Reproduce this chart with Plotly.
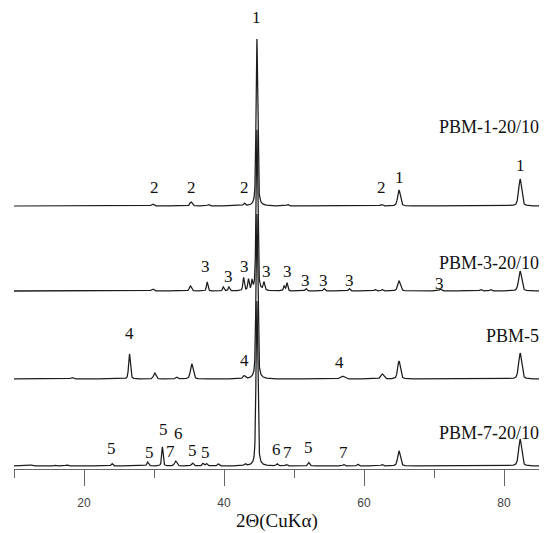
import numpy as np
import plotly.graph_objects as go

# ---------------- data ----------------
series_names = ["PBM-1-20/10", "PBM-3-20/10", "PBM-5", "PBM-7-20/10"]

# peak positions (2theta, deg), intensities (arb.), widths (FWHM, deg)
pbm1_pos = [29.8, 35.3, 37.8, 42.9, 44.7, 49.1, 62.5, 65.0, 82.3]
pbm1_int = [2, 4, 1.5, 2.5, 167, 1.5, 1.5, 16, 27]
pbm1_fw  = [0.4, 0.4, 0.3, 0.3, 0.28, 0.3, 0.4, 0.45, 0.5]

pbm3_pos = [29.8, 35.2, 37.6, 39.9, 40.7, 42.8, 43.5, 44.0, 44.7, 45.7, 48.6, 49.0,
            51.7, 54.3, 57.9, 61.6, 62.6, 65.0, 70.9, 76.7, 78.1, 82.3]
pbm3_int = [2, 5, 9, 4, 4, 13, 11, 9, 161, 8, 5, 8,
            2.5, 2.5, 2.5, 1.5, 1.5, 10, 2, 1.5, 1.5, 20]
pbm3_fw  = [0.4, 0.35, 0.25, 0.25, 0.25, 0.25, 0.25, 0.2, 0.28, 0.25, 0.25, 0.25,
            0.3, 0.3, 0.3, 0.3, 0.3, 0.45, 0.4, 0.3, 0.3, 0.5]

pbm5_pos = [18.3, 26.5, 30.1, 33.2, 35.4, 42.9, 44.7, 56.9, 62.6, 65.0, 82.3]
pbm5_int = [1.5, 25, 6, 2, 15, 3, 165, 3, 5, 18, 26]
pbm5_fw  = [0.4, 0.3, 0.4, 0.35, 0.45, 0.4, 0.3, 0.7, 0.5, 0.45, 0.5]

pbm7_pos = [12.5, 15.8, 17.5, 24.0, 29.1, 31.2, 33.1, 35.5, 37.0, 37.5, 39.2, 43.0,
            44.7, 47.6, 48.9, 52.1, 57.1, 59.1, 62.6, 65.0, 82.3]
pbm7_int = [1, 1, 1, 2.5, 4, 19, 5, 3, 2.5, 2.5, 2, 2,
            165, 2, 1.5, 3.5, 1.5, 2, 1.5, 15, 27]
pbm7_fw  = [0.4, 0.4, 0.4, 0.3, 0.3, 0.25, 0.4, 0.35, 0.3, 0.3, 0.3, 0.3,
            0.3, 0.3, 0.3, 0.3, 0.3, 0.3, 0.3, 0.45, 0.5]

# peak phase labels: text, 2theta
lab1_text = ["1", "1", "1", "2", "2", "2", "2"]
lab1_x    = [44.6, 65.0, 82.3, 30.0, 35.4, 42.9, 62.5]
lab3_text = ["3"] * 9
lab3_x    = [37.4, 40.6, 42.9, 46.1, 49.0, 51.6, 54.2, 57.9, 70.8]
lab5_text = ["4", "4", "4"]
lab5_x    = [26.5, 42.9, 56.5]
lab7_text = ["5", "5", "5", "7", "6", "5", "5", "6", "7", "5", "7"]
lab7_x    = [23.9, 29.4, 31.3, 32.3, 33.5, 35.5, 37.3, 47.5, 49.0, 52.1, 57.0]

x_tick_vals = [20, 40, 60, 80]
x_tick_text = ["20", "40", "60", "80"]

# ---------------- layout / style ----------------
W, H = 550, 533
AXIS_PX = 469          # pixel row of x axis line
TOP_PX = 10
offsets = [263, 178, 90, 3]   # vertical stacking of the curves

lab1_y = [17, 177, 165, 187, 187, 187, 187]
lab3_y = [266, 276, 266, 271, 271, 280, 280, 280, 283]
lab5_y = [333, 360, 362]
lab7_y = [448, 452, 429, 451, 433, 450, 452, 449, 452, 447, 452]
name_y = [127, 263, 336, 433]


def profile(x, pos, inten, fw, eta=0.45):
    y = np.zeros_like(x)
    for p, h, w in zip(pos, inten, fw):
        g = np.exp(-4 * np.log(2) * ((x - p) / w) ** 2)
        l = 1.0 / (1 + 4 * ((x - p) / w) ** 2)
        y += h * (eta * l + (1 - eta) * g)
    return y


x = np.linspace(10, 85, 3751)
peaks = [(pbm1_pos, pbm1_int, pbm1_fw), (pbm3_pos, pbm3_int, pbm3_fw),
         (pbm5_pos, pbm5_int, pbm5_fw), (pbm7_pos, pbm7_int, pbm7_fw)]

fig = go.Figure()
for (pos, inten, fw), off, name in zip(peaks, offsets, series_names):
    fig.add_trace(go.Scatter(x=x, y=profile(x, pos, inten, fw) + off, mode="lines",
                             line=dict(color="#1c1c1c", width=1.25), name=name,
                             showlegend=False, hoverinfo="skip"))

serif = "Liberation Serif, Times New Roman, serif"
ann = []
for texts, xs, ys in [(lab1_text, lab1_x, lab1_y), (lab3_text, lab3_x, lab3_y),
                      (lab5_text, lab5_x, lab5_y), (lab7_text, lab7_x, lab7_y)]:
    for t, xx, yy in zip(texts, xs, ys):
        ann.append(dict(x=xx, y=AXIS_PX - yy, xref="x", yref="y", text=t, showarrow=False,
                        font=dict(family=serif, size=17, color="#111"),
                        xanchor="center", yanchor="middle"))
for name, yy in zip(series_names, name_y):
    ann.append(dict(x=85, y=AXIS_PX - yy, xref="x", yref="y", text=name, showarrow=False,
                    font=dict(family=serif, size=18, color="#111"),
                    xanchor="right", yanchor="middle", xshift=2))
ann.append(dict(x=0.5, y=-(521 - AXIS_PX) / (AXIS_PX - TOP_PX), xref="paper", yref="paper",
                text="2Θ(CuKα)", showarrow=False,
                font=dict(family=serif, size=19, color="#111"),
                xanchor="center", yanchor="middle"))

fig.update_layout(
    width=W, height=H,
    margin=dict(l=14, r=11, t=TOP_PX, b=H - AXIS_PX),
    plot_bgcolor="white", paper_bgcolor="white",
    annotations=ann,
    xaxis=dict(range=[10, 85], showgrid=False, zeroline=False, showline=True,
               linecolor="#666", linewidth=1,
               ticks="outside", ticklen=16, tickwidth=1, tickcolor="#666",
               tickvals=x_tick_vals, ticktext=x_tick_text, ticklabelstandoff=7,
               tickfont=dict(family="Liberation Sans, Arial, sans-serif", size=12, color="#444"),
               minor=dict(tickvals=[10, 30, 50, 70], ticks="outside", ticklen=8,
                          tickwidth=1, tickcolor="#666")),
    yaxis=dict(range=[0, AXIS_PX - TOP_PX], visible=False, showgrid=False, zeroline=False),
)

fig.write_html("out.html", config={"displayModeBar": False},
               post_script="document.body.style.margin='0';document.body.style.overflow='hidden';")
